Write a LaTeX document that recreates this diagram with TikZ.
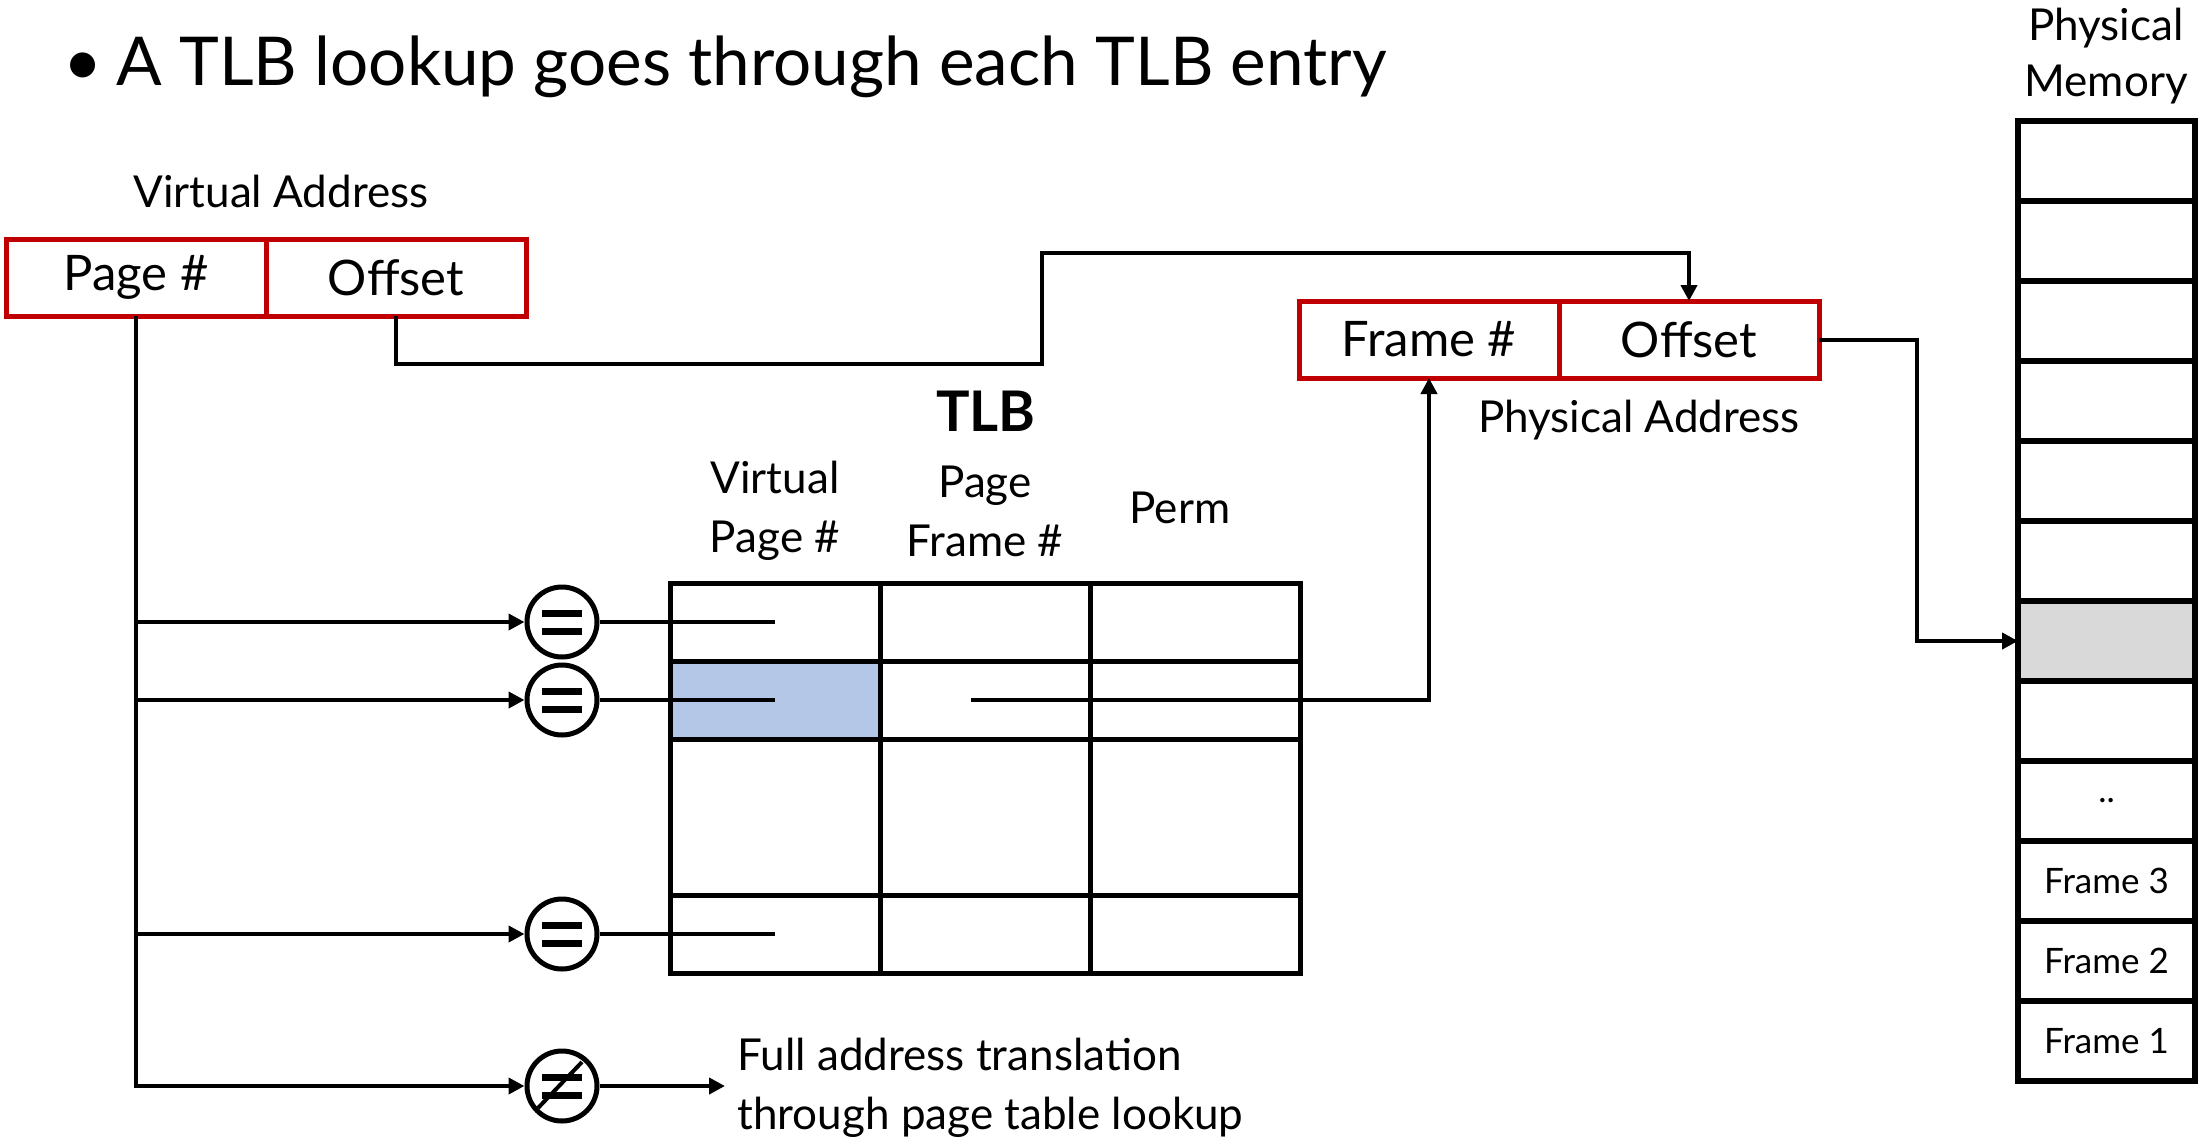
\documentclass[tikz,border=0pt]{standalone}
\usepackage{fontspec}
\setmainfont{Lato}
\usetikzlibrary{arrows.meta,positioning}
\definecolor{boxred}{RGB}{192,0,0}
\definecolor{hitblue}{RGB}{180,199,231}
\definecolor{memgray}{RGB}{217,217,217}
\begin{document}
\begin{tikzpicture}[x=0.5pt,y=-0.5pt,
    >={Triangle[length=8pt,width=8pt]},
    every node/.style={font=\fontsize{22}{29.5}\selectfont},
    conn/.style={line width=2pt},
    addr/.style={draw=boxred,line width=2.5pt,minimum width=130pt,minimum height=38.5pt,
      inner sep=0pt,outer sep=0pt,font=\fontsize{24.5}{30}\selectfont},
    tlbcell/.style={draw,line width=2.5pt,minimum width=105pt,inner sep=0pt,outer sep=0pt},
    memcell/.style={draw,line width=3pt,minimum width=88.5pt,minimum height=40pt,
      inner sep=0pt,outer sep=0pt,font=\fontsize{17.5}{20}\selectfont},
    cmp/.style={draw,circle,line width=2.5pt,minimum size=35pt,inner sep=0pt,
      path picture={
        \draw[line width=3.5pt] ([shift={(-10pt,4.5pt)}]path picture bounding box.center) -- ++(20pt,0pt)
          ([shift={(-10pt,-4.5pt)}]path picture bounding box.center) -- ++(20pt,0pt);}},
    ncmp/.style={draw,circle,line width=2.5pt,minimum size=35pt,inner sep=0pt,
      path picture={
        \draw[line width=3.5pt] ([shift={(-10pt,4.5pt)}]path picture bounding box.center) -- ++(20pt,0pt)
          ([shift={(-10pt,-4.5pt)}]path picture bounding box.center) -- ++(20pt,0pt);
        \draw[line width=2pt] ([shift={(-12pt,-11pt)}]path picture bounding box.center) -- ++(22pt,23pt);}}]
    \useasboundingbox (0,0) rectangle (2202,1146);

    \node[anchor=west,inner sep=0pt,font=\fontsize{33.7}{40}\selectfont] (title) at (63,67)
        {\textbullet\hspace{7pt}A TLB lookup goes through each TLB entry};

    % virtual address
    \node (valabel) at (281,191) {Virtual Address};
    \node[addr] (page) at (136,277.5) {Page \#};
    \node[addr,right=0pt of page] (voff) {Offset};

    % physical address
    \node[addr] (pfr) at (1429,339.5) {Frame \#};
    \node[addr,right=0pt of pfr] (poff) {Offset};
    \node (palabel) at (1639,420) {Physical Address};

    % TLB
    \node[font=\fontsize{28}{30}\selectfont\bfseries] (tlb) at (986,411) {TLB};
    \node[align=center] (h1) at (775,511) {Virtual\\Page \#};
    \node[align=center] (h2) at (985,511) {Page\\Frame \#};
    \node (h3) at (1180,508) {Perm};
    \fill[hitblue] (670,661) rectangle (880,739);
    \foreach \r/\y/\h in {1/622/39pt,2/700/39pt,3/817/78pt,4/934/39pt}
        \foreach \c/\x in {1/775,2/985,3/1195}
            \node[tlbcell,minimum height=\h] (c\r\c) at (\x,\y) {};

    % physical memory
    \node[align=center,font=\fontsize{22}{28}\selectfont] (memlabel) at (2106,56) {Physical\\Memory};
    \foreach \i/\t/\f in {1//none,2//none,3//none,4//none,5//none,6//none,7//memgray,
            8//none,9/../none,10/Frame 3/none,11/Frame 2/none,12/Frame 1/none}
        \node[memcell,fill=\f] (m\i) at (2106.5,81+80*\i) {\t};

    % comparators
    \node[cmp] (e1) at (562,622) {};
    \node[cmp] (e2) at (562,700) {};
    \node[cmp] (e3) at (562,934) {};
    \node[ncmp] (nq) at (562,1086) {};
    \node[anchor=west,align=left,inner sep=6pt] (full) at (725,1088)
        {Full address translation\\through page table lookup};

    \path[draw,conn,->] (page.south) |- (nq);
    \path[draw,conn,->] (page.south |- e1) -- (e1);
    \path[draw,conn,->] (page.south |- e2) -- (e2);
    \path[draw,conn,->] (page.south |- e3) -- (e3);
    \path[draw,conn] (e1) -- (c11.center);
    \path[draw,conn] (e2) -- (c21.center);
    \path[draw,conn] (e3) -- (c41.center);
    \path[draw,conn,->] (nq) -- (nq -| full.west);
    \path[draw,conn,->] (c22.center) ++(-14,0) -| (pfr.south);
    \path[draw,conn,->] (voff.south) |- (1042,364) -- (1042,253) -| (poff.north);
    \path[draw,conn,->] (poff.east) -- ++(98,0) |- (m7);
\end{tikzpicture}
\end{document}
